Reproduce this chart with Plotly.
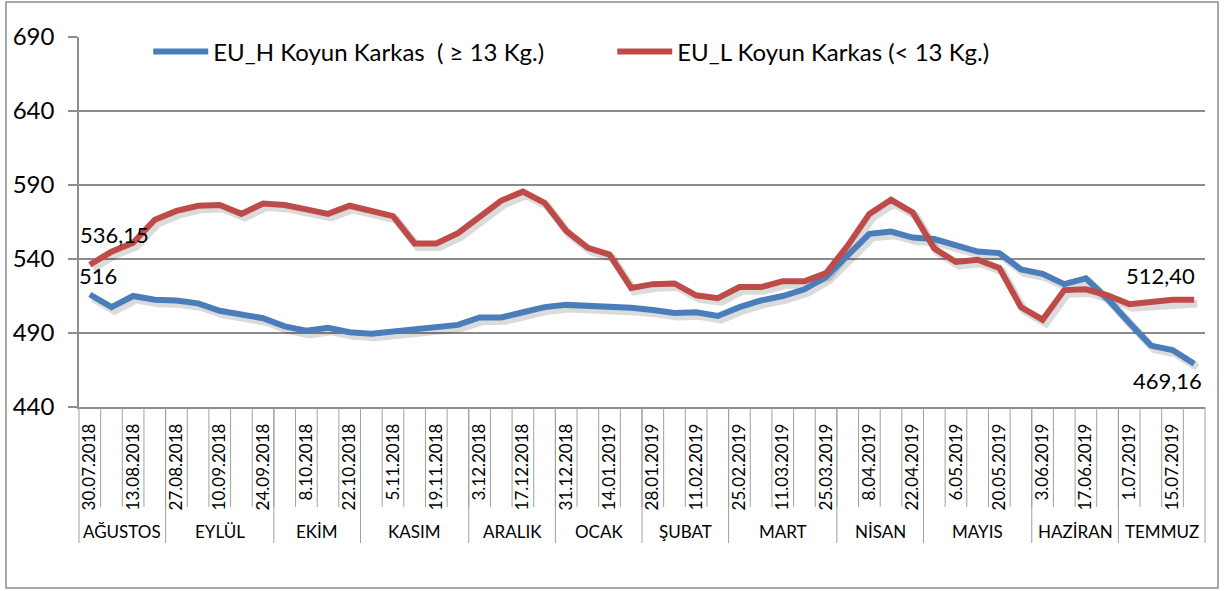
import plotly.graph_objects as go

# ---------------- data ----------------
dates = [
    "30.07.2018", "6.08.2018", "13.08.2018", "20.08.2018", "27.08.2018", "3.09.2018",
    "10.09.2018", "17.09.2018", "24.09.2018", "1.10.2018", "8.10.2018", "15.10.2018",
    "22.10.2018", "29.10.2018", "5.11.2018", "12.11.2018", "19.11.2018", "26.11.2018",
    "3.12.2018", "10.12.2018", "17.12.2018", "24.12.2018", "31.12.2018", "7.01.2019",
    "14.01.2019", "21.01.2019", "28.01.2019", "4.02.2019", "11.02.2019", "18.02.2019",
    "25.02.2019", "4.03.2019", "11.03.2019", "18.03.2019", "25.03.2019", "1.04.2019",
    "8.04.2019", "15.04.2019", "22.04.2019", "29.04.2019", "6.05.2019", "13.05.2019",
    "20.05.2019", "27.05.2019", "3.06.2019", "10.06.2019", "17.06.2019", "24.06.2019",
    "1.07.2019", "8.07.2019", "15.07.2019", "22.07.2019",
]

months = ["AĞUSTOS", "EYLÜL", "EKİM", "KASIM", "ARALIK", "OCAK",
          "ŞUBAT", "MART", "NİSAN", "MAYIS", "HAZİRAN", "TEMMUZ"]
month_weeks = [4, 5, 4, 5, 4, 4, 4, 5, 4, 5, 4, 4]

eu_h = [
    516, 507.5, 515, 512.5, 512, 510, 505, 503, 500, 494.5,
    491.5, 493.5, 490.5, 489.5, 491, 491.5, 493, 495.5, 500.5, 500.5,
    504, 507.5, 509, 508.5, 508, 507, 505.5, 503.5, 504, 501.5,
    507.5, 512, 515, 519.5, 528, 542.5, 557, 558.5, 554.5, 553.5,
    549, 545, 544, 533, 530, 523, 527, 513, 497, 481.5,
    478.5, 469.16,
]
eu_l = [
    536.15, 545, 551, 566.5, 572.5, 576, 576.5, 570.5, 577.5, 576.5,
    573.5, 570.5, 576, 572, 569, 550.5, 550.5, 557.5, 568, 579.5,
    585.5, 578, 559, 547.5, 543, 520.5, 523, 523.5, 515.5, 513.5,
    521, 521, 525, 525, 530.5, 549, 570.5, 580, 571.5, 547,
    538, 539.5, 534, 507.5, 499, 519, 519.5, 515.5, 509.5, 510.5,
    512.5, 512.40,
]

series_names = ["EU_H Koyun Karkas  ( ≥ 13 Kg.)", "EU_L Koyun Karkas (< 13 Kg.)"]
y_ticks = [440, 490, 540, 590, 640, 690]

# ---------------- styling ----------------
BLUE = "#4A7EBB"
RED = "#BE4B48"
GRID = "#8C8C8C"
SEP = "#A0A0A0"
FONT = "Lato"

W, H = 1227, 591
ML, MR, MT, MB = 79, 22, 37, 184
plot_h = H - MT - MB

x = list(range(len(dates)))


def fmt(v):
    if float(v).is_integer():
        return str(int(v))
    return f"{v:.2f}".replace(".", ",")


fig = go.Figure()

# soft drop shadows (offset slightly right/down, like the Excel line effect)
for ys in (eu_h, eu_l):
    fig.add_trace(go.Scatter(
        x=[v + 0.15 for v in x], y=[v - 2.4 for v in ys], mode="lines",
        line=dict(color="rgba(0,0,0,0.14)", width=8), hoverinfo="skip",
        showlegend=False))

fig.add_trace(go.Scatter(x=x, y=eu_h, mode="lines", name=series_names[0],
                         line=dict(color=BLUE, width=6)))
fig.add_trace(go.Scatter(x=x, y=eu_l, mode="lines", name=series_names[1],
                         line=dict(color=RED, width=6)))

# ---------------- category table (week / month separators) ----------------
def py(px_below_axis):
    return -px_below_axis / plot_h


shapes = []
for i in range(1, len(dates)):
    shapes.append(dict(type="line", xref="x", yref="paper", x0=i - 0.5, x1=i - 0.5,
                       y0=0, y1=py(100), line=dict(color=SEP, width=1)))
start = 0
annotations = []
for name, n in zip(months, month_weeks):
    end = start + n
    if 0 < end < len(dates):
        shapes.append(dict(type="line", xref="x", yref="paper", x0=end - 0.5, x1=end - 0.5,
                           y0=0, y1=py(136), line=dict(color=SEP, width=1)))
    annotations.append(dict(x=(start + end - 1) / 2, y=py(124), xref="x", yref="paper",
                            text=name, showarrow=False, yanchor="middle",
                            font=dict(family=FONT, size=17, color="#000")))
    start = end
# left / right borders of the table
for xp in (0, 1):
    shapes.append(dict(type="line", xref="paper", yref="paper", x0=xp, x1=xp,
                       y0=0, y1=py(136), line=dict(color=SEP, width=1)))
# outer chart border
shapes.append(dict(type="rect", xref="paper", yref="paper",
                   x0=(6 - ML) / (W - ML - MR), x1=(1218 - ML) / (W - ML - MR),
                   y0=(MT + plot_h - 588) / plot_h, y1=(MT + plot_h - 2) / plot_h,
                   line=dict(color="#8A8A8A", width=1.5)))

# ---------------- data labels ----------------
label_specs = [
    (0, eu_h, 8, 19),
    (0, eu_l, 25, 30),
    (len(x) - 1, eu_l, -34, 24),
    (len(x) - 1, eu_h, -27, -17),
]
for idx, ys, dx, dy in label_specs:
    annotations.append(dict(x=x[idx], y=ys[idx], xref="x", yref="y", text=fmt(ys[idx]),
                            showarrow=False, xshift=dx, yshift=dy,
                            font=dict(family=FONT, size=22, color="#000")))

fig.update_layout(
    width=W, height=H,
    margin=dict(l=ML, r=MR, t=MT, b=MB, autoexpand=False),
    paper_bgcolor="white", plot_bgcolor="white",
    font=dict(family=FONT, color="#000"),
    shapes=shapes, annotations=annotations,
    showlegend=True,
    legend=dict(orientation="h", x=0.0615, y=0.96, xanchor="left", yanchor="middle",
                font=dict(family=FONT, size=24, color="#000"),
                entrywidth=394, entrywidthmode="pixels",
                bgcolor="rgba(0,0,0,0)", itemwidth=55),
)

fig.update_xaxes(
    range=[-0.5, len(dates) - 0.5], tickmode="array",
    tickvals=x[::2], ticktext=dates[::2], tickangle=-90,
    tickfont=dict(family=FONT, size=17, color="#000"),
    showgrid=False, zeroline=False, showline=True, linecolor=GRID, linewidth=1.5,
    ticks="", ticklabelstandoff=8, automargin=False, fixedrange=True,
)
fig.update_yaxes(
    range=[y_ticks[0], y_ticks[-1]], tickmode="array", tickvals=y_ticks,
    tickfont=dict(family=FONT, size=24, color="#000"),
    showgrid=True, gridcolor=GRID, gridwidth=1.5, zeroline=False,
    showline=True, linecolor=GRID, linewidth=1.5,
    ticks="outside", ticklen=9, tickcolor=GRID, tickwidth=1.5,
    ticklabelstandoff=9, automargin=False, fixedrange=True,
)

fig.write_html("out.html", config={"displayModeBar": False},
               post_script="document.body.style.margin='0';document.body.style.overflow='hidden';")
